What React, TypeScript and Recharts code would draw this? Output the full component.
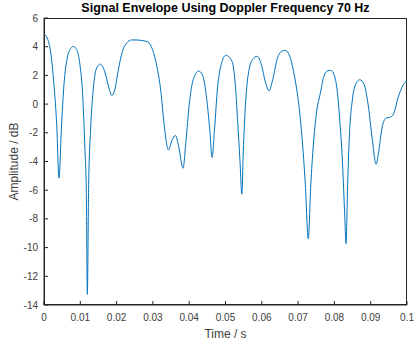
import { Line, LineChart, XAxis, YAxis } from "recharts";

// time (s) and envelope (dB)
const times = [
  0, 0.0009, 0.0018, 0.00275, 0.0035, 0.00413, 0.0048, 0.0055, 0.0064, 0.0073,
  0.0081, 0.009, 0.0099, 0.01065, 0.0113, 0.01166, 0.01194, 0.0123, 0.01286, 0.0136,
  0.0145, 0.0156, 0.0167, 0.0179, 0.0187, 0.0195, 0.0204, 0.0216, 0.0228, 0.0241,
  0.0253, 0.0272, 0.0286, 0.0299, 0.031, 0.0322, 0.0331, 0.0343, 0.0353, 0.0362,
  0.0371, 0.0383, 0.0391, 0.04, 0.0411, 0.0426, 0.0437, 0.0448, 0.0457, 0.0463,
  0.047, 0.0478, 0.0488, 0.0501, 0.0518, 0.0527, 0.0534, 0.054, 0.0545, 0.0549,
  0.0555, 0.0564, 0.0576, 0.0587, 0.0599, 0.061, 0.062, 0.063, 0.0643, 0.0654,
  0.0665, 0.0677, 0.0691, 0.0702, 0.0711, 0.072, 0.0728, 0.0735, 0.0742, 0.075,
  0.0762, 0.0771, 0.0782, 0.079, 0.0799, 0.0808, 0.0815, 0.0823, 0.0828, 0.0832,
  0.0836, 0.0841, 0.0849, 0.0858, 0.087, 0.0882, 0.0893, 0.0904, 0.0915, 0.0922,
  0.0931, 0.0942, 0.0955, 0.0964, 0.0975, 0.099, 0.1,
];
const amplitude = [
  4.88, 4.6, 3.67, 1.35, -1.44, -5.16, -1.67, 1.35, 3.2, 3.86,
  4.02, 3.8, 2.74, 0.65, -3.3, -6.1, -13.26, -5.6, -1.67, 1.12,
  2.51, 2.79, 2.28, 1.12, 0.6, 1.0, 2.28, 3.67, 4.26, 4.47,
  4.47, 4.42, 4.33, 3.8, 2.74, 0.88, -1.44, -3.19, -2.49, -2.19,
  -2.95, -4.47, -2.6, -0.05, 1.7, 2.3, 2.0, 0.4, -1.9, -3.72,
  -1.67, 1.12, 2.74, 3.4, 2.98, 1.35, -1.44, -4.0, -6.28, -3.3,
  -0.05, 2.28, 3.16, 3.33, 2.74, 1.53, 0.93, 1.7, 3.2, 3.67,
  3.74, 3.33, 1.81, -0.05, -2.37, -5.63, -9.4, -5.63, -2.84, -0.74,
  0.85, 1.93, 2.33, 2.35, 2.05, 0.88, -1.2, -4.47, -7.5, -9.72,
  -6.1, -2.37, 0.19, 1.35, 1.7, 1.35, -0.05, -2.37, -4.19, -3.3,
  -1.67, -0.98, -0.9, -0.63, 0.42, 1.35, 1.65,
];
const xTicks = [0, 0.01, 0.02, 0.03, 0.04, 0.05, 0.06, 0.07, 0.08, 0.09, 0.1];
const yTicks = [-14, -12, -10, -8, -6, -4, -2, 0, 2, 4, 6];

const data = times.map((t, i) => ({ t, v: amplitude[i] }));

const FONT = "'Liberation Sans', Arial, sans-serif";
const AXIS = "#262626";
const TEXT = "#404040";
const TL = 4; // inward tick length
const GAP_X = 9; // x tick label distance from the axis
const GAP_Y = 6;

const fmtX = (v: number) => (v === 0 ? "0" : String(+v.toFixed(2)));

// MATLAB style: ticks point into the plot box
const BottomTick = ({ x, y, payload }: any) => (
  <g>
    <line x1={x} x2={x} y1={y - GAP_X} y2={y - GAP_X - TL} stroke={AXIS} />
    <text x={x} y={y} dy="0.71em" textAnchor="middle" fill={TEXT} fontSize={10} fontFamily={FONT}>
      {fmtX(payload.value)}
    </text>
  </g>
);
const LeftTick = ({ x, y, payload }: any) => (
  <g>
    <line x1={x + GAP_Y} x2={x + GAP_Y + TL} y1={y} y2={y} stroke={AXIS} />
    <text x={x} y={y} dy="0.355em" textAnchor="end" fill={TEXT} fontSize={10} fontFamily={FONT}>
      {payload.value}
    </text>
  </g>
);
const TopTick = ({ x, y }: any) => <line x1={x} x2={x} y1={y} y2={y + TL} stroke={AXIS} />;
const RightTick = ({ x, y }: any) => <line x1={x} x2={x - TL} y1={y} y2={y} stroke={AXIS} />;

export default function App() {
  return (
    <div style={{ position: "absolute", left: 0, top: 0, width: 414, height: 344, background: "#fff" }}>
      <div
        style={{
          position: "absolute",
          left: 44,
          width: 363,
          top: 1,
          textAlign: "center",
          fontFamily: FONT,
          fontWeight: "bold",
          fontSize: 12.5,
          lineHeight: "14px",
          color: "#000",
        }}
      >
        Signal Envelope Using Doppler Frequency 70 Hz
      </div>
      <div
        style={{
          position: "absolute",
          left: 44,
          top: 18,
          width: 363,
          height: 287,
          boxSizing: "border-box",
          border: `1px solid ${AXIS}`,
          pointerEvents: "none",
        }}
      />
      <LineChart
        width={414}
        height={344}
        data={data}
        margin={{ top: 18, right: 7, bottom: 0, left: 0 }}
        style={{ position: "absolute", left: 0, top: 0 }}
      >
        <XAxis
          dataKey="t"
          type="number"
          domain={[0, 0.1]}
          ticks={xTicks}
          interval={0}
          height={39}
          tickSize={0}
          tickLine={false}
          tickMargin={GAP_X}
          stroke={AXIS}
          tick={<BottomTick />}
          label={{ value: "Time / s", position: "insideBottom", offset: 6, fill: TEXT, fontSize: 12, fontFamily: FONT }}
        />
        <XAxis
          xAxisId="top"
          orientation="top"
          dataKey="t"
          type="number"
          domain={[0, 0.1]}
          ticks={xTicks}
          interval={0}
          height={0}
          tickSize={0}
          tickLine={false}
          tickMargin={0}
          stroke={AXIS}
          tick={<TopTick />}
        />
        <YAxis
          type="number"
          domain={[-14, 6]}
          ticks={yTicks}
          interval={0}
          width={44}
          tickSize={0}
          tickLine={false}
          tickMargin={GAP_Y}
          stroke={AXIS}
          tick={<LeftTick />}
          label={{ value: "Amplitude / dB", angle: -90, position: "insideLeft", offset: 14, fill: TEXT, fontSize: 12, fontFamily: FONT, style: { textAnchor: "middle" } }}
        />
        <YAxis
          yAxisId="right"
          orientation="right"
          type="number"
          domain={[-14, 6]}
          ticks={yTicks}
          interval={0}
          width={0}
          tickSize={0}
          tickLine={false}
          tickMargin={0}
          stroke={AXIS}
          tick={<RightTick />}
        />
        <Line
          type="monotone"
          dataKey="v"
          stroke="#0072BD"
          strokeWidth={1}
          dot={false}
          isAnimationActive={false}
        />
      </LineChart>
    </div>
  );
}
